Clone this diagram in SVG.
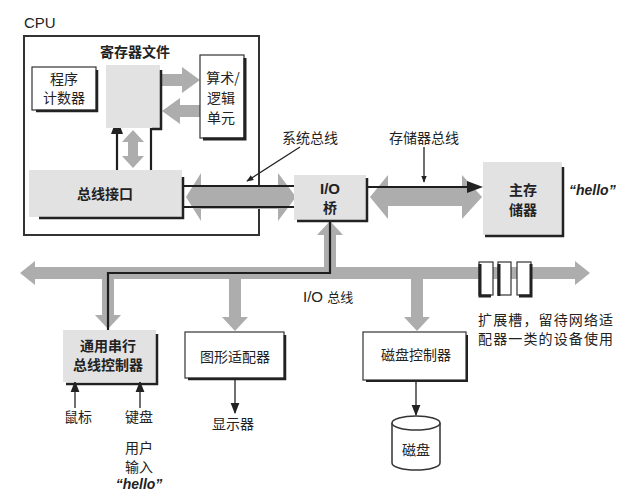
<svg xmlns="http://www.w3.org/2000/svg" width="640" height="501" viewBox="0 0 640 501">
<defs>
<style>
.t{font-family:"Noto Sans CJK SC","Liberation Sans",sans-serif;font-size:14px;fill:#222;text-anchor:middle}
.b{font-weight:bold}
.lat{font-family:"Liberation Sans","Noto Sans CJK SC",sans-serif}
.hello{font-family:"Liberation Sans",sans-serif;font-weight:bold;font-style:italic;font-size:14px;fill:#222}
.box{fill:#fff;stroke:#333;stroke-width:1.2}
.gbox{fill:#e2e2e2;stroke:none}
.sh{fill:none;stroke:#222;stroke-width:2.5}
.ga{fill:#adadad}
.ln{fill:none;stroke:#1e1e1e;stroke-width:2.2}
.thin{fill:none;stroke:#222;stroke-width:1.3}
</style>
<marker id="ah" viewBox="0 0 10 10" refX="9" refY="5" markerWidth="7" markerHeight="7" orient="auto-start-reverse" markerUnits="userSpaceOnUse">
<path d="M0,1 L10,5 L0,9 z" fill="#222"/>
</marker>
<marker id="ahL" viewBox="0 0 10 10" refX="9" refY="5" markerWidth="11" markerHeight="11" orient="auto" markerUnits="userSpaceOnUse">
<path d="M0,1 L10,5 L0,9 z" fill="#222"/>
</marker>
</defs>
<rect width="640" height="501" fill="#fff"/>

<g id="cpu">
<text x="24" y="28" class="lat" style="font-size:15px;fill:#222">CPU</text>
<rect x="24" y="36" width="235" height="199" fill="none" stroke="#333" stroke-width="2"/>
</g>

<g id="connectors">
<polygon class="ga" points="186,197 201,173 201,185 278,185 278,173 296,197 278,221 278,209 201,209 201,221"/>
<polygon class="ga" points="370,197 388,175 388,188 462,188 462,175 482,197 462,219 462,206 388,206 388,219"/>
<polygon class="ga" points="20,273 35,261 35,267 575,267 575,261 590,273 575,285 575,279 35,279 35,285"/>
<polygon class="ga" points="162,74 182,74 182,67 200,80 182,93 182,86 162,86"/>
<polygon class="ga" points="200,105 180,105 180,98 162,111 180,124 180,117 200,117"/>
<polygon class="ga" points="133,130 144,142 138,142 138,156 144,156 133,168 122,156 128,156 128,142 122,142"/>
<polygon class="ga" points="102,279 114,279 114,315 121,315 108,329 95,315 102,315"/>
<polygon class="ga" points="229,279 241,279 241,317 248,317 235,331 222,317 229,317"/>
<polygon class="ga" points="411,279 423,279 423,317 430,317 417,331 404,317 411,317"/>
<polygon class="ga" points="324,267 336,267 336,235 343,235 330,221 317,235 324,235"/>

<path class="ln" d="M111,336 Q108,334 108,330 V273 H330 V216"/>
<path class="ln" d="M300,202 V207 H117 V132"/>
<polygon points="117,118 123,134 111,134" fill="#222"/>
<path class="ln" d="M151,113 V186 H313"/>
<path class="ln" d="M345,187 H468"/>
<polygon points="483,187 467,181 467,193" fill="#222"/>

<line x1="300" y1="147" x2="247" y2="181" class="thin" marker-end="url(#ah)"/>
<line x1="424" y1="147" x2="424" y2="182" class="thin" marker-end="url(#ah)"/>
<line x1="75" y1="408" x2="75" y2="382" class="thin" marker-end="url(#ahL)"/>
<line x1="140" y1="408" x2="140" y2="382" class="thin" marker-end="url(#ahL)"/>
<line x1="235" y1="379" x2="235" y2="413" class="thin" marker-end="url(#ahL)"/>
<line x1="416" y1="383" x2="416" y2="415" class="thin" marker-start="url(#ahL)" marker-end="url(#ahL)"/>
</g>

<g id="regfile">
<text x="135" y="57" class="t b">寄存器文件</text>
<rect x="106" y="65" width="54" height="63" class="gbox"/>
<path class="sh" d="M161,70 V129 H152"/>
</g>

<g id="pc">
<rect x="32" y="67" width="64" height="43" class="box"/>
<path class="sh" d="M97,70 V111 H36"/>
<text x="64" y="84" class="t">程序</text>
<text x="64" y="103" class="t">计数器</text>
</g>

<g id="alu">
<rect x="200" y="55" width="44" height="83" class="box"/>
<path class="sh" d="M245,58 V139 H203" style="stroke-width:3"/>
<text x="223" y="83" class="t">算术/</text>
<text x="221" y="103" class="t">逻辑</text>
<text x="221" y="123" class="t">单元</text>
</g>

<g id="businterface">
<rect x="29" y="170" width="153" height="47" class="gbox"/>
<path class="sh" d="M183,177 V218 H39"/>
<text x="105" y="199" class="t b">总线接口</text>
</g>

<g id="bridge">
<rect x="294" y="175" width="72" height="45" class="gbox"/>
<path class="sh" d="M367,178 V221 H297"/>
<text x="330" y="194" class="t b lat" style="font-size:15px">I/O</text>
<text x="330" y="213" class="t b">桥</text>
</g>

<g id="mainmem">
<text x="310" y="143" class="t">系统总线</text>
<text x="424" y="143" class="t">存储器总线</text>
<rect x="483" y="162" width="79" height="73" class="gbox"/>
<path class="sh" d="M563,167 V236 H485"/>
<text x="523" y="195" class="t b">主存</text>
<text x="523" y="215" class="t b">储器</text>
<text x="569" y="195" class="hello">“hello”</text>
</g>

<g id="iobus-label">
<text x="303" y="302" class="lat" style="font-size:15px;fill:#222">I/O <tspan style="font-family:'Noto Sans CJK SC',sans-serif;font-size:13px">总线</tspan></text>
</g>

<g id="slots">
<rect x="479" y="262" width="14" height="33" fill="#fff" stroke="#333" stroke-width="1.2"/>
<path class="sh" d="M480,264 V296 H491" style="stroke-width:3"/>
<rect x="498" y="262" width="13" height="33" fill="#fff" stroke="#333" stroke-width="1.2"/>
<path class="sh" d="M499,264 V296" style="stroke-width:3"/>
<rect x="517" y="262" width="14" height="33" fill="#fff" stroke="#333" stroke-width="1.2"/>
<path class="sh" d="M531,264 V296 H519" style="stroke-width:3"/>
<text x="478" y="325" class="t" style="text-anchor:start" textLength="135">扩展槽，留待网络适</text>
<text x="478" y="344" class="t" style="text-anchor:start" textLength="135">配器一类的设备使用</text>
</g>

<g id="usb">
<rect x="63" y="330" width="93" height="52" class="gbox"/>
<path class="sh" d="M157,334 V384 H66"/>
<text x="108" y="351" class="t b">通用串行</text>
<text x="108" y="370" class="t b">总线控制器</text>
<text x="78" y="422" class="t">鼠标</text>
<text x="139" y="422" class="t">键盘</text>
<text x="139" y="453" class="t">用户</text>
<text x="139" y="472" class="t">输入</text>
<text x="139" y="489" class="hello" style="text-anchor:middle">“hello”</text>
</g>

<g id="graphics">
<rect x="185" y="332" width="99" height="46" class="box"/>
<path class="sh" d="M285,335 V379 H188"/>
<text x="235" y="362" class="t">图形适配器</text>
<text x="233" y="429" class="t">显示器</text>
</g>

<g id="diskctrl">
<rect x="363" y="332" width="103" height="48" class="box"/>
<path class="sh" d="M467,335 V381 H366" style="stroke-width:2"/>
<text x="416" y="360" class="t">磁盘控制器</text>
</g>

<g id="disk">
<path d="M392,423 V463 A24,7 0 0 0 440,463 V423" fill="#fff" stroke="#333" stroke-width="1.5"/>
<ellipse cx="416" cy="423" rx="24" ry="7" fill="#fff" stroke="#333" stroke-width="1.5"/>
<text x="416" y="455" class="t">磁盘</text>
</g>
</svg>
